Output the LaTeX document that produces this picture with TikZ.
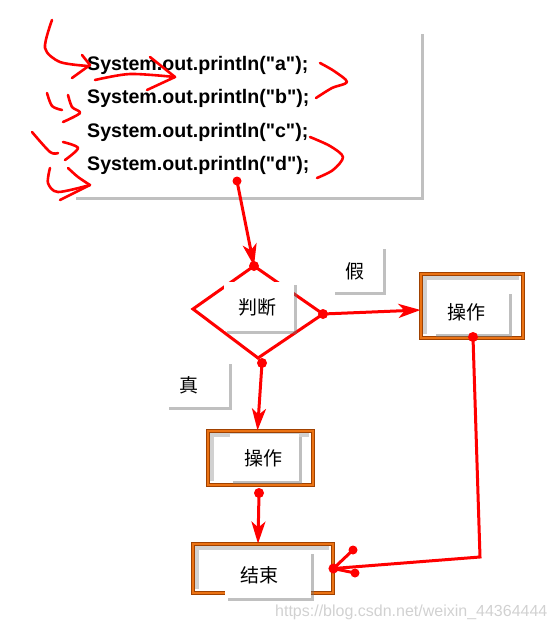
\documentclass[tikz,border=0pt]{standalone}
\usepackage{fontspec}
\setmainfont{Liberation Sans}[Ligatures=TeXOff]
\newfontfamily\cjk{Noto Sans CJK SC}
\usetikzlibrary{shadows,arrows.meta}
\definecolor{myred}{RGB}{255,0,0}
\definecolor{obrd}{RGB}{160,65,0}
\definecolor{ofill}{RGB}{235,115,20}
\begin{document}
\begin{tikzpicture}[x=1pt,y=-1pt,
  whitebox/.style={draw=none, fill=white, inner sep=0pt,
    drop shadow={shadow xshift=3pt, shadow yshift=-3pt, fill=black!55, opacity=0.45}},
  obox/.style={draw=obrd, double=ofill, double distance=2.2pt, line width=0.9pt,
    fill=white, inner sep=0pt,
    path picture={\draw[black!18, line width=4pt]
      ([xshift=4pt,yshift=4pt]path picture bounding box.south west) |-
      ([xshift=-4pt,yshift=-4pt]path picture bounding box.north east);},
    drop shadow={shadow xshift=2pt, shadow yshift=-2pt, fill=black!50, opacity=0.3}},
  lbl/.style={font=\cjk\fontsize{19}{19}\selectfont, inner sep=0pt},
  codetext/.style={font=\fontsize{19.6}{20}\selectfont\bfseries, inner sep=0pt, anchor=base west},
  conn/.style={draw=myred, line width=3pt, -{Stealth[length=22pt,width=14pt,inset=6pt]}},
  plainline/.style={draw=myred, line width=3pt, line join=miter},
  squig/.style={draw=myred, line width=2.6pt, line cap=round, line join=round},
  reddot/.style={fill=myred}
]
\useasboundingbox (0,0) rectangle (556,632);

% code box
\node[whitebox, minimum width=348pt, minimum height=166pt] (code) at (247,114) {};
\node[codetext] (la) at (87,70) {System.out.println("a");};
\node[codetext] (lb) at (87,103.5) {System.out.println("b");};
\node[codetext] (lc) at (87,137) {System.out.println("c");};
\node[codetext] (ld) at (87,170.5) {System.out.println("d");};

% squiggles
\draw[squig] plot[smooth] coordinates {(52,20) (45,48) (60,62) (88,66)};
\draw[squig] (82,55) -- (90,65) -- (72,78);
\draw[squig] plot[smooth] coordinates {(95,80) (130,74) (175,77)};
\draw[squig] (150,57) -- (175,77) -- (147,90);
\draw[squig] plot[smooth] coordinates {(320,63) (334,71) (347,82) (332,88) (316,98)};
\draw[squig] plot[smooth] coordinates {(47,93) (52,106) (62,110)};
\draw[squig] plot[smooth] coordinates {(68,95) (72,107) (80,113) (63,122)};
\draw[squig] plot[smooth] coordinates {(32,132) (50,152) (58,153)};
\draw[squig] plot[smooth] coordinates {(63,142) (78,148) (65,160)};
\draw[squig] plot[smooth] coordinates {(310,137) (330,146) (343,157) (333,170) (317,178)};
\draw[squig] plot[smooth] coordinates {(50,168) (48,183) (58,192) (90,185)};
\draw[squig] plot[smooth] coordinates {(68,168) (78,177) (90,185)};
\draw[squig] (90,185) -- (60,200);

% diamond
\coordinate (dt) at (254,266);
\coordinate (dl) at (193,309);
\coordinate (dr) at (323,314);
\coordinate (db) at (258,358);
\draw[plainline] (dt) -- (dr) -- (db) -- (dl) -- cycle;
\node[whitebox, minimum width=70pt, minimum height=49pt] (judge) at (259,306.5) {};
\node[lbl] (judget) at (257,307) {判断};

% code -> diamond
\coordinate (s0) at (237,181);
\draw[conn] (s0) -- (dt);
\fill[reddot] (s0) circle (4.5pt);
\fill[reddot] (dt) circle (5pt);

% false label
\node[whitebox, minimum width=51pt, minimum height=46pt] (falsebox) at (357.5,269) {};
\node[lbl] (falset) at (355,271) {假};

% right op box
\node[obox, minimum width=102pt, minimum height=64pt] (op1) at (472,306) {};
\node[whitebox, minimum width=76pt, minimum height=43pt] (op1in) at (471,312.5) {};
\node[lbl] (op1t) at (466,312) {操作};

\draw[conn] (dr) -- ([yshift=-4pt]op1.west);
\fill[reddot] (dr) circle (5pt);

% true label
\node[whitebox, minimum width=63pt, minimum height=46pt] (truebox) at (197.5,384) {};
\node[lbl] (truet) at (189,385) {真};

% middle op box
\node[obox, minimum width=105pt, minimum height=54pt] (op2) at (260.5,458) {};
\node[whitebox, minimum width=69pt, minimum height=47pt] (op2in) at (264.5,457.5) {};
\node[lbl] (op2t) at (263,458) {操作};

\coordinate (bd) at (262,363);
\draw[conn] (bd) -- ([xshift=-3pt]op2.north);
\fill[reddot] (bd) circle (5pt);

% end box
\node[obox, minimum width=140pt, minimum height=49pt] (endb) at (263,568.5) {};
\node[whitebox, minimum width=86pt, minimum height=47pt] (endin) at (268,574.5) {};
\node[lbl] (endt) at (259,575) {结束};

\coordinate (bo) at (259,493);
\draw[conn] (bo) -- ([xshift=-5pt]endb.north);
\fill[reddot] (bo) circle (5pt);

% right loop back
\coordinate (ro) at (473,337);
\coordinate (rc) at (480,557);
\coordinate (ea) at (353,550);
\coordinate (eb) at (355,573);
\draw[plainline] (ro) -- (rc) -- (endb.east);
\draw[plainline] (endb.east) -- (ea);
\draw[plainline] (endb.east) -- (eb);
\fill[reddot] (ro) circle (5pt);
\fill[reddot] (endb.east) circle (5pt);
\fill[reddot] (ea) circle (4.5pt);
\fill[reddot] (eb) circle (4.5pt);

% watermark
\node[font=\fontsize{16}{16}\selectfont, text=black!18, inner sep=0pt, anchor=west] (wm) at (275,612) {https://blog.csdn.net/weixin\_44364444};
\end{tikzpicture}
\end{document}
